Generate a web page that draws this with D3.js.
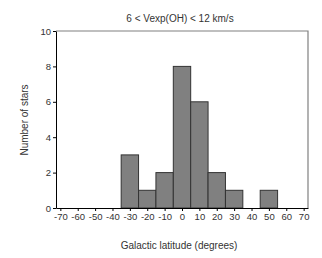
<!DOCTYPE html>
<html>
<head>
<meta charset="utf-8">
<script src="https://cdn.jsdelivr.net/npm/d3@7"></script>
<style>
  body { margin: 0; background: #fff; }
  text { font-family: "Liberation Sans", Arial, sans-serif; fill: #333; }
</style>
</head>
<body>
<div id="chart"></div>
<script>
// histogram bins (centre of bin, degrees) and star counts
const binCentres = [-30, -20, -10, 0, 10, 20, 30, 40, 50];
const counts = [3, 1, 2, 8, 6, 2, 1, 0, 1];
const xTicks = [-70, -60, -50, -40, -30, -20, -10, 0, 10, 20, 30, 40, 50, 60, 70];
const yTicks = [0, 2, 4, 6, 8, 10];
const binWidth = 10;

const width = 322, height = 258;
const margin = {top: 31, right: 14, bottom: 50, left: 56};

const svg = d3.select('#chart')
    .append('svg')
    .attr('width', width)
    .attr('height', height);

const x = d3.scaleLinear()
    .domain([-72.5, 72.5])
    .range([margin.left, width - margin.right]);

const y = d3.scaleLinear()
    .domain([0, 10])
    .range([height - margin.bottom, margin.top]);

// grey frame on top and right
svg.append('path')
    .attr('d', `M${x(-72.5)},${y(10)}H${x(72.5)}V${y(0)}`)
    .attr('fill', 'none')
    .attr('stroke', '#808080')
    .attr('stroke-width', 1.2);

// bars
svg.selectAll('.bar')
    .data(binCentres.map((c, i) => ({c, n: counts[i]})).filter(d => d.n > 0))
    .enter()
    .append('rect')
    .attr('class', 'bar')
    .attr('x', d => x(d.c - binWidth / 2))
    .attr('width', d => x(d.c + binWidth / 2) - x(d.c - binWidth / 2))
    .attr('y', d => y(d.n))
    .attr('height', d => y(0) - y(d.n))
    .attr('fill', '#808080')
    .attr('stroke', '#333')
    .attr('stroke-width', 1);

// plain hyphen for negatives, like the original
const fmt = d => String(d);

const xAxis = svg.append('g')
    .attr('transform', `translate(0,${y(0)})`)
    .call(d3.axisBottom(x).tickValues(xTicks).tickFormat(fmt).tickSize(3).tickPadding(2).tickSizeOuter(0));

const yAxis = svg.append('g')
    .attr('transform', `translate(${x(-72.5)},0)`)
    .call(d3.axisLeft(y).tickValues(yTicks).tickFormat(fmt).tickSize(3).tickPadding(2).tickSizeOuter(0));

[xAxis, yAxis].forEach(g => {
    g.select('.domain').attr('stroke', '#000');
    g.selectAll('.tick line').attr('stroke', '#000');
    g.selectAll('.tick text')
        .style('font-family', '"Liberation Sans", Arial, sans-serif')
        .style('font-size', '9.5px')
        .attr('fill', '#333');
});

svg.append('text')
    .attr('x', 180)
    .attr('y', 22)
    .attr('text-anchor', 'middle')
    .style('font-size', '10px')
    .text('6 < Vexp(OH) < 12 km/s');

svg.append('text')
    .attr('x', 179)
    .attr('y', 249)
    .attr('text-anchor', 'middle')
    .style('font-size', '10px')
    .text('Galactic latitude (degrees)');

svg.append('text')
    .attr('transform', `translate(28,120) rotate(-90)`)
    .attr('text-anchor', 'middle')
    .style('font-size', '10px')
    .text('Number of stars');
</script>
</body>
</html>
